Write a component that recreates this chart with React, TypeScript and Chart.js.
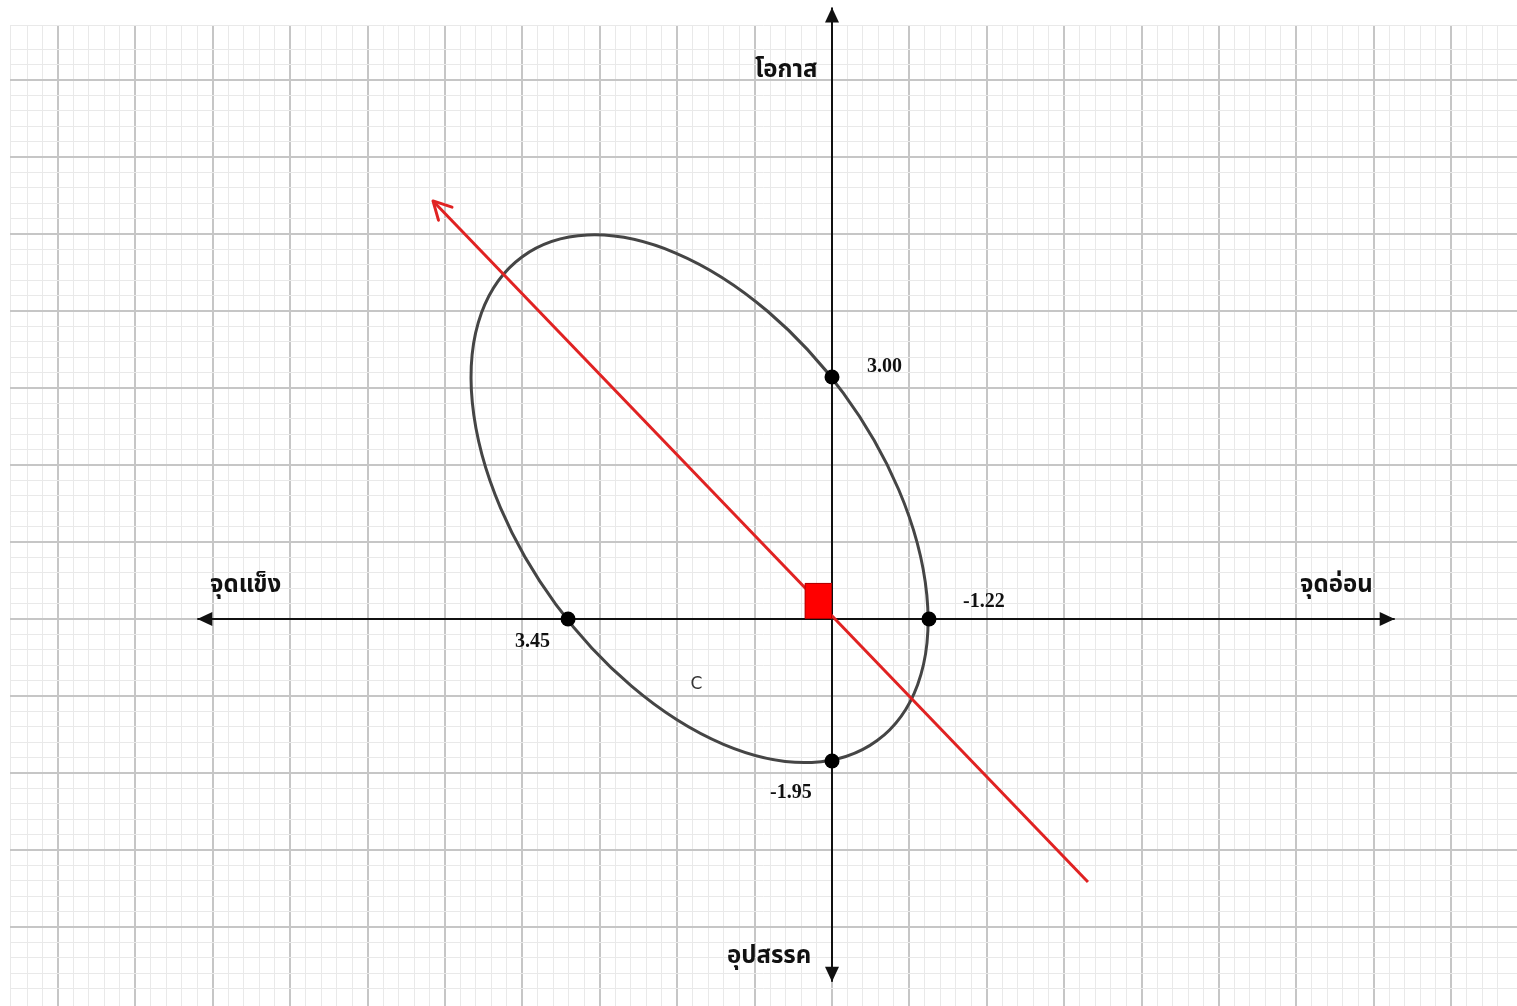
import React, { useEffect, useRef } from "react";
import { Chart, registerables } from "chart.js";

Chart.register(...registerables);

// ---- grid frame (1 unit = one major grid square) ----
const X_MIN = -10.62;
const X_MAX = 8.85;
const Y_MIN = -5.026;
const Y_MAX = 7.714;
const MINOR_STEP = 0.2;

// ---- quadrant axes: arrow tip positions ----
const AXIS_X_ENDS = [-8.2, 7.27];
const AXIS_Y_ENDS = [-4.71, 7.94];

// ---- quadrant axis captions ----
const AXIS_CAPTIONS = ["จุดแข็ง", "จุดอ่อน", "โอกาส", "อุปสรรค"];
const AXIS_CAPTION_X = [-8.036, 6.047, -0.995, -1.357];
const AXIS_CAPTION_Y = [0.351, 0.351, 7.039, -4.468];

// ---- intercept points and their score labels ----
const POINT_LABELS = ["3.45", "-1.22", "3.00", "-1.95"];
const POINT_X = [-3.41, 1.253, 0, 0];
const POINT_Y = [0, 0, 3.143, -1.844];
const LABEL_X = [-4.096, 1.693, 0.452, -0.801];
const LABEL_Y = [-0.364, 0.156, 3.208, -2.325];

// ---- ellipse (center, semi axes, rotation) ----
const ELLIPSE_CENTER = [-1.711, 1.562];
const ELLIPSE_RADII = [3.876, 2.305];
const ELLIPSE_ROTATION_DEG = 53.7;

// ---- strategy arrow (tail, head) ----
const ARROW_X = [3.307, -5.155];
const ARROW_Y = [-3.416, 5.429];

// ---- right-angle marker at origin ----
const MARKER_X = [-0.349, 0];
const MARKER_Y = [0, 0.468];

// ---- curve caption ----
const CURVE_LABEL = "C";
const CURVE_LABEL_POS = [-1.751, -0.851];

const THAI_FONT = '"Noto Sans Thai", "Noto Sans Thai UI", Tahoma, "Loma", "Garuda", "Noto Sans", sans-serif';
const NUM_FONT = '"Liberation Serif", "Times New Roman", serif';

const isMajor = (v: number) => Math.abs(v - Math.round(v)) < 1e-6;

function triangle(ctx: CanvasRenderingContext2D, fromX: number, fromY: number, tipX: number, tipY: number, len: number, half: number) {
  const dx = tipX - fromX;
  const dy = tipY - fromY;
  const d = Math.hypot(dx, dy);
  const ux = dx / d;
  const uy = dy / d;
  const bx = tipX - ux * len;
  const by = tipY - uy * len;
  ctx.beginPath();
  ctx.moveTo(tipX, tipY);
  ctx.lineTo(bx - uy * half, by + ux * half);
  ctx.lineTo(bx + uy * half, by - ux * half);
  ctx.closePath();
  ctx.fill();
}

const overlayPlugin = {
  id: "overlay",
  beforeDatasetsDraw(chart: any) {
    const { ctx, scales } = chart;
    const xs = scales.x;
    const ys = scales.y;
    const px = (v: number) => xs.getPixelForValue(v);
    const py = (v: number) => ys.getPixelForValue(v);
    ctx.save();
    ctx.beginPath();
    ctx.ellipse(
      px(ELLIPSE_CENTER[0]),
      py(ELLIPSE_CENTER[1]),
      px(ELLIPSE_RADII[0]) - px(0),
      px(ELLIPSE_RADII[1]) - px(0),
      (ELLIPSE_ROTATION_DEG * Math.PI) / 180,
      0,
      Math.PI * 2
    );
    ctx.strokeStyle = "#454545";
    ctx.lineWidth = 3;
    ctx.stroke();
    ctx.restore();
  },
  afterDatasetsDraw(chart: any) {
    const { ctx, scales } = chart;
    const xs = scales.x;
    const ys = scales.y;
    const px = (v: number) => xs.getPixelForValue(v);
    const py = (v: number) => ys.getPixelForValue(v);
    ctx.save();

    // axis arrowheads
    ctx.fillStyle = "#111";
    triangle(ctx, px(0), py(0), px(AXIS_X_ENDS[0]), py(0), 15, 7);
    triangle(ctx, px(0), py(0), px(AXIS_X_ENDS[1]), py(0), 15, 7);
    triangle(ctx, px(0), py(0), px(0), py(AXIS_Y_ENDS[0]), 15, 7);
    triangle(ctx, px(0), py(0), px(0), py(AXIS_Y_ENDS[1]), 15, 7);

    // open arrowhead on strategy line
    const tx = px(ARROW_X[1]);
    const ty = py(ARROW_Y[1]);
    const ang = Math.atan2(py(ARROW_Y[0]) - ty, px(ARROW_X[0]) - tx);
    const spread = (28 * Math.PI) / 180;
    const blen = 20;
    ctx.strokeStyle = "#e02222";
    ctx.lineWidth = 3;
    ctx.lineCap = "round";
    ctx.lineJoin = "round";
    ctx.beginPath();
    ctx.moveTo(tx + Math.cos(ang - spread) * blen, ty + Math.sin(ang - spread) * blen);
    ctx.lineTo(tx, ty);
    ctx.lineTo(tx + Math.cos(ang + spread) * blen, ty + Math.sin(ang + spread) * blen);
    ctx.stroke();

    // right angle marker
    const mx0 = px(MARKER_X[0]);
    const mx1 = px(MARKER_X[1]);
    const my0 = py(MARKER_Y[1]);
    const my1 = py(MARKER_Y[0]);
    ctx.fillStyle = "#ff0000";
    ctx.fillRect(mx0, my0, mx1 - mx0, my1 - my0);
    ctx.strokeStyle = "#b00000";
    ctx.lineWidth = 1;
    ctx.strokeRect(mx0 + 0.5, my0 + 0.5, mx1 - mx0 - 1, my1 - my0 - 1);

    // score labels
    ctx.fillStyle = "#111";
    ctx.font = `bold 20px ${NUM_FONT}`;
    ctx.textAlign = "left";
    ctx.textBaseline = "alphabetic";
    POINT_LABELS.forEach((t, i) => ctx.fillText(t, px(LABEL_X[i]), py(LABEL_Y[i])));

    // axis captions
    ctx.font = `bold 24px ${THAI_FONT}`;
    AXIS_CAPTIONS.forEach((t, i) => ctx.fillText(t, px(AXIS_CAPTION_X[i]), py(AXIS_CAPTION_Y[i])));

    // curve caption
    ctx.font = `17px "DejaVu Sans", sans-serif`;
    ctx.fillStyle = "#333";
    ctx.textAlign = "center";
    ctx.textBaseline = "middle";
    ctx.fillText(CURVE_LABEL, px(CURVE_LABEL_POS[0]), py(CURVE_LABEL_POS[1]));

    ctx.restore();
  },
};

export default function App() {
  const ref = useRef<HTMLCanvasElement | null>(null);

  useEffect(() => {
    if (!ref.current) return;
    const gridOpts = {
      drawTicks: false,
      tickLength: 0,
      color: (c: any) => (c.tick && isMajor(c.tick.value) ? "#c6c6c6" : "#e9e9e9"),
      lineWidth: (c: any) => (c.tick && isMajor(c.tick.value) ? 2 : 1),
    };
    const chart = new Chart(ref.current, {
      type: "scatter",
      data: {
        datasets: [
          {
            label: "points",
            data: POINT_X.map((x, i) => ({ x, y: POINT_Y[i] })),
            pointRadius: 7.5,
            pointBackgroundColor: "#000",
            pointBorderWidth: 0,
            showLine: false,
          },
          {
            label: "strategy",
            data: ARROW_X.map((x, i) => ({ x, y: ARROW_Y[i] })),
            showLine: true,
            borderColor: "#e02222",
            borderWidth: 3,
            pointRadius: 0,
          },
          {
            label: "x-axis",
            data: AXIS_X_ENDS.map((x) => ({ x, y: 0 })),
            showLine: true,
            borderColor: "#111",
            borderWidth: 2,
            pointRadius: 0,
            clip: false,
          },
          {
            label: "y-axis",
            data: AXIS_Y_ENDS.map((y) => ({ x: 0, y })),
            showLine: true,
            borderColor: "#111",
            borderWidth: 2,
            pointRadius: 0,
            clip: false,
          },
        ],
      },
      options: {
        animation: false,
        responsive: false,
        maintainAspectRatio: false,
        devicePixelRatio: 1,
        layout: { autoPadding: false, padding: { left: 10, top: 25, right: 0, bottom: 0 } },
        plugins: { legend: { display: false }, tooltip: { enabled: false } },
        events: [],
        scales: {
          x: {
            type: "linear",
            min: X_MIN,
            max: X_MAX,
            ticks: { display: false, stepSize: MINOR_STEP },
            grid: gridOpts,
            border: { display: false },
          },
          y: {
            type: "linear",
            min: Y_MIN,
            max: Y_MAX,
            ticks: { display: false, stepSize: MINOR_STEP },
            grid: gridOpts,
            border: { display: false },
          },
        },
      },
      plugins: [overlayPlugin],
    });
    return () => chart.destroy();
  }, []);

  return (
    <div style={{ position: "absolute", left: 0, top: 0, width: 1517, height: 1006, background: "#fff" }}>
      <canvas ref={ref} width={1517} height={1006} style={{ display: "block" }} />
    </div>
  );
}
